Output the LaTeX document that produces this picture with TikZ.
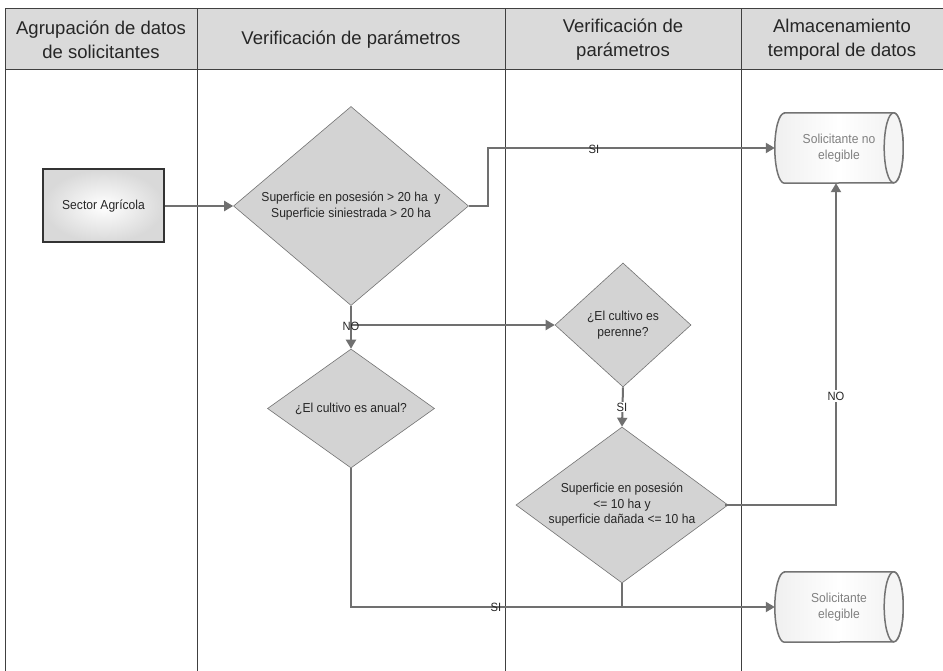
\documentclass[tikz,border=0pt]{standalone}
\usepackage{fontspec}
\setmainfont{Liberation Sans}
\newfontfamily\headfont{Liberation Sans}
\newfontfamily\nodefont[FakeStretch=0.93]{Liberation Sans}
\usetikzlibrary{shapes.geometric,arrows.meta}
\definecolor{lanecol}{HTML}{404040}
\definecolor{conncol}{HTML}{707070}
\definecolor{diafill}{HTML}{D3D3D3}
\definecolor{headfill}{HTML}{DADADA}
\tikzset{
  hdr/.style={draw=lanecol, line width=1pt, fill=headfill, minimum height=61pt, inner sep=0pt, align=center, font=\headfont\fontsize{18.5}{24}\selectfont, text=black!85},
  lane/.style={draw=lanecol, line width=1pt},
  dia/.style={diamond, draw=black!55, line width=0.6pt, fill=diafill, inner sep=0pt},
  txt/.style={align=center, font=\nodefont\fontsize{13}{15.5}\selectfont, text=black!85},
  conn/.style={draw=conncol, line width=2pt, -{Triangle[length=9pt,width=10pt]}},
  plainline/.style={draw=conncol, line width=2pt},
  lbl/.style={font=\nodefont\fontsize{12}{12}\selectfont, text=black!85, inner sep=0pt},
  store/.style={rectangle, draw=none, minimum width=128pt, minimum height=70pt, inner sep=0pt, align=center, font=\nodefont\fontsize{13}{15.5}\selectfont, text=black!50},
  storeline/.style={draw=black!55, line width=1.5pt},
  srcbox/.style={draw=black!80, line width=2pt, inner color=white, outer color=gray!30, minimum width=121pt, minimum height=73pt, font=\nodefont\fontsize{13}{15}\selectfont, text=black!85}
}
\newcommand{\cylbody}[1]{%
  \draw[storeline, left color=gray!12, right color=gray!12, middle color=white]
    ([xshift=9.5pt]#1.north west) -- ([xshift=-9.5pt]#1.north east)
    arc[start angle=90, end angle=-90, x radius=9.5pt, y radius=35pt]
    -- ([xshift=9.5pt]#1.south west)
    arc[start angle=270, end angle=90, x radius=9.5pt, y radius=35pt] -- cycle;
  \draw[storeline, fill=gray!8] ([xshift=-9.5pt]#1.north east)
    arc[start angle=90, end angle=-90, x radius=9.5pt, y radius=35pt]
    arc[start angle=270, end angle=90, x radius=9.5pt, y radius=35pt];
}
\begin{document}
\begin{tikzpicture}[x=1pt,y=-1pt]
\useasboundingbox (0,0) rectangle (943,671);
\fill[white] (0,0) rectangle (943,671);
% header cells
\node[hdr, minimum width=192pt] (h1) at (101,39.5) {Agrupación de datos\\de solicitantes};
\node[hdr, minimum width=308pt] (h2) at (351,39.5) {Verificación de parámetros};
\node[hdr, minimum width=236pt] (h3) at (623,39.5) {Verificación de\\parámetros};
\node[hdr, minimum width=202pt] (h4) at (842,39.5) {Almacenamiento\\temporal de datos};
% lane lines
\draw[lane] (5,70) -- (5,671);
\draw[lane] (197,70) -- (197,671);
\draw[lane] (505,70) -- (505,671);
\draw[lane] (741,70) -- (741,671);
% nodes
\node[srcbox] (sa) at (103.5,206) {Sector Agrícola};
\node[dia, minimum width=235pt, minimum height=199pt,
  label={[txt]center:Superficie en posesión > 20 ha\ \ y\\Superficie siniestrada > 20 ha}] (d1) at (351,206) {};
\node[dia, minimum width=167pt, minimum height=119pt,
  label={[txt]center:¿El cultivo es anual?}] (d2) at (351,408.5) {};
\node[dia, minimum width=136pt, minimum height=124pt,
  label={[txt]center:¿El cultivo es\\perenne?}] (d3) at (623,325) {};
\node[dia, minimum width=212pt, minimum height=156pt,
  label={[txt]center:Superficie en posesión\\<= 10 ha y\\superficie dañada <= 10 ha}] (d4) at (622,505) {};
\node[store] (c1) at (839,148) {};
\cylbody{c1}
\node[store] at (c1.center) {Solicitante no\\elegible};
\node[store] (c2) at (839,607) {};
\cylbody{c2}
\node[store] at (c2.center) {Solicitante\\elegible};
\coordinate (j1) at (351,325);
\coordinate (j2) at (622,607);
% connectors
\draw[conn] (sa.east) -- (d1.west);
\draw[conn] (d1.east) -- ++(19,0) |- (c1.west);
\node[lbl] at (594,149) {SI};
\draw[conn] (d1.south) -- (d2.north);
\draw[conn] (j1) -- (d3.west);
\node[lbl] at (351,326) {NO};
\draw[conn] (d3.south) -- (d4.north);
\node[lbl, fill=white, inner sep=1pt] at (622,407) {SI};
\draw[conn] ([xshift=-3pt]d4.east) -| ([xshift=-3pt]c1.south);
\node[lbl, fill=white, inner sep=1.5pt] at (836,396) {NO};
\draw[conn] (d2.south) |- (c2.west);
\draw[plainline] (d4.south) -- (j2);
\node[lbl] at (496,607) {SI};
\end{tikzpicture}
\end{document}
